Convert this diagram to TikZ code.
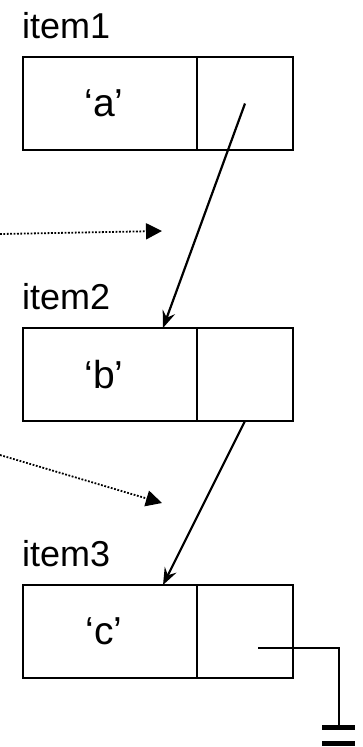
\documentclass[tikz,border=0pt]{standalone}
\usepackage{fontspec}
\setmainfont{Liberation Sans}
\usetikzlibrary{arrows.meta,calc}
\begin{document}
\begin{tikzpicture}[x=1pt,y=-1pt,
  bigtext/.style={font=\fontsize{36}{40}\selectfont},
  celltext/.style={font=\fontsize{39}{44}\selectfont},
  cell/.style={draw, line width=2pt, minimum height=93pt, inner sep=0pt,
    outer sep=0pt, anchor=north west, celltext},
  valcell/.style={cell, minimum width=174pt},
  ptrcell/.style={cell, minimum width=96pt},
  lbl/.style={anchor=base west, inner sep=0pt, bigtext},
  link/.style={line width=2.2pt, -{Stealth[length=17pt,width=13pt,inset=6pt]}},
  hint/.style={line width=1.8pt, dash pattern=on 1.8pt off 1.6pt,
    -{Triangle[length=16pt,width=16pt]}},
  wire/.style={line width=2.2pt},
  plate/.style={line width=5pt},
]
\useasboundingbox (0,0) rectangle (363,747);

% list items: value cell + pointer cell
\node[valcell] (v1) at (23,57) {\hspace*{-12pt}‘a’};
\node[ptrcell] (p1) at (v1.north east) {};
\node[lbl] (l1) at (22,38) {item1};

\node[valcell] (v2) at (23,328) {\hspace*{-12pt}‘b’};
\node[ptrcell] (p2) at (v2.north east) {};
\node[lbl] (l2) at (22,309) {item2};

\node[valcell] (v3) at (23,585) {\hspace*{-12pt}‘c’};
\node[ptrcell] (p3) at (v3.north east) {};
\node[lbl] (l3) at (22,566) {item3};

% next pointers
\coordinate (t2) at (163,328);
\coordinate (t3) at (163,585);
\draw[link] (p1.center) -- (t2);
\draw[link] (p2.south) -- (t3);

% dotted hints coming in from the left
\coordinate (h1s) at (0,234);
\coordinate (h1e) at (162,231);
\coordinate (h2s) at (0,455);
\coordinate (h2e) at (162,503);
\draw[hint] (h1s) -- (h1e);
\draw[hint] (h2s) -- (h2e);

% null pointer to ground
\coordinate (g0) at (258,648);
\coordinate (g1) at (339,648);
\coordinate (g2) at (339,727);
\draw[wire] (g0) -- (g1) -- (g2);
\coordinate (ga) at (322,727);
\coordinate (gb) at (355,727);
\coordinate (gc) at (322,743);
\coordinate (gd) at (355,743);
\draw[plate] (ga) -- (gb);
\draw[plate] (gc) -- (gd);
\end{tikzpicture}
\end{document}
